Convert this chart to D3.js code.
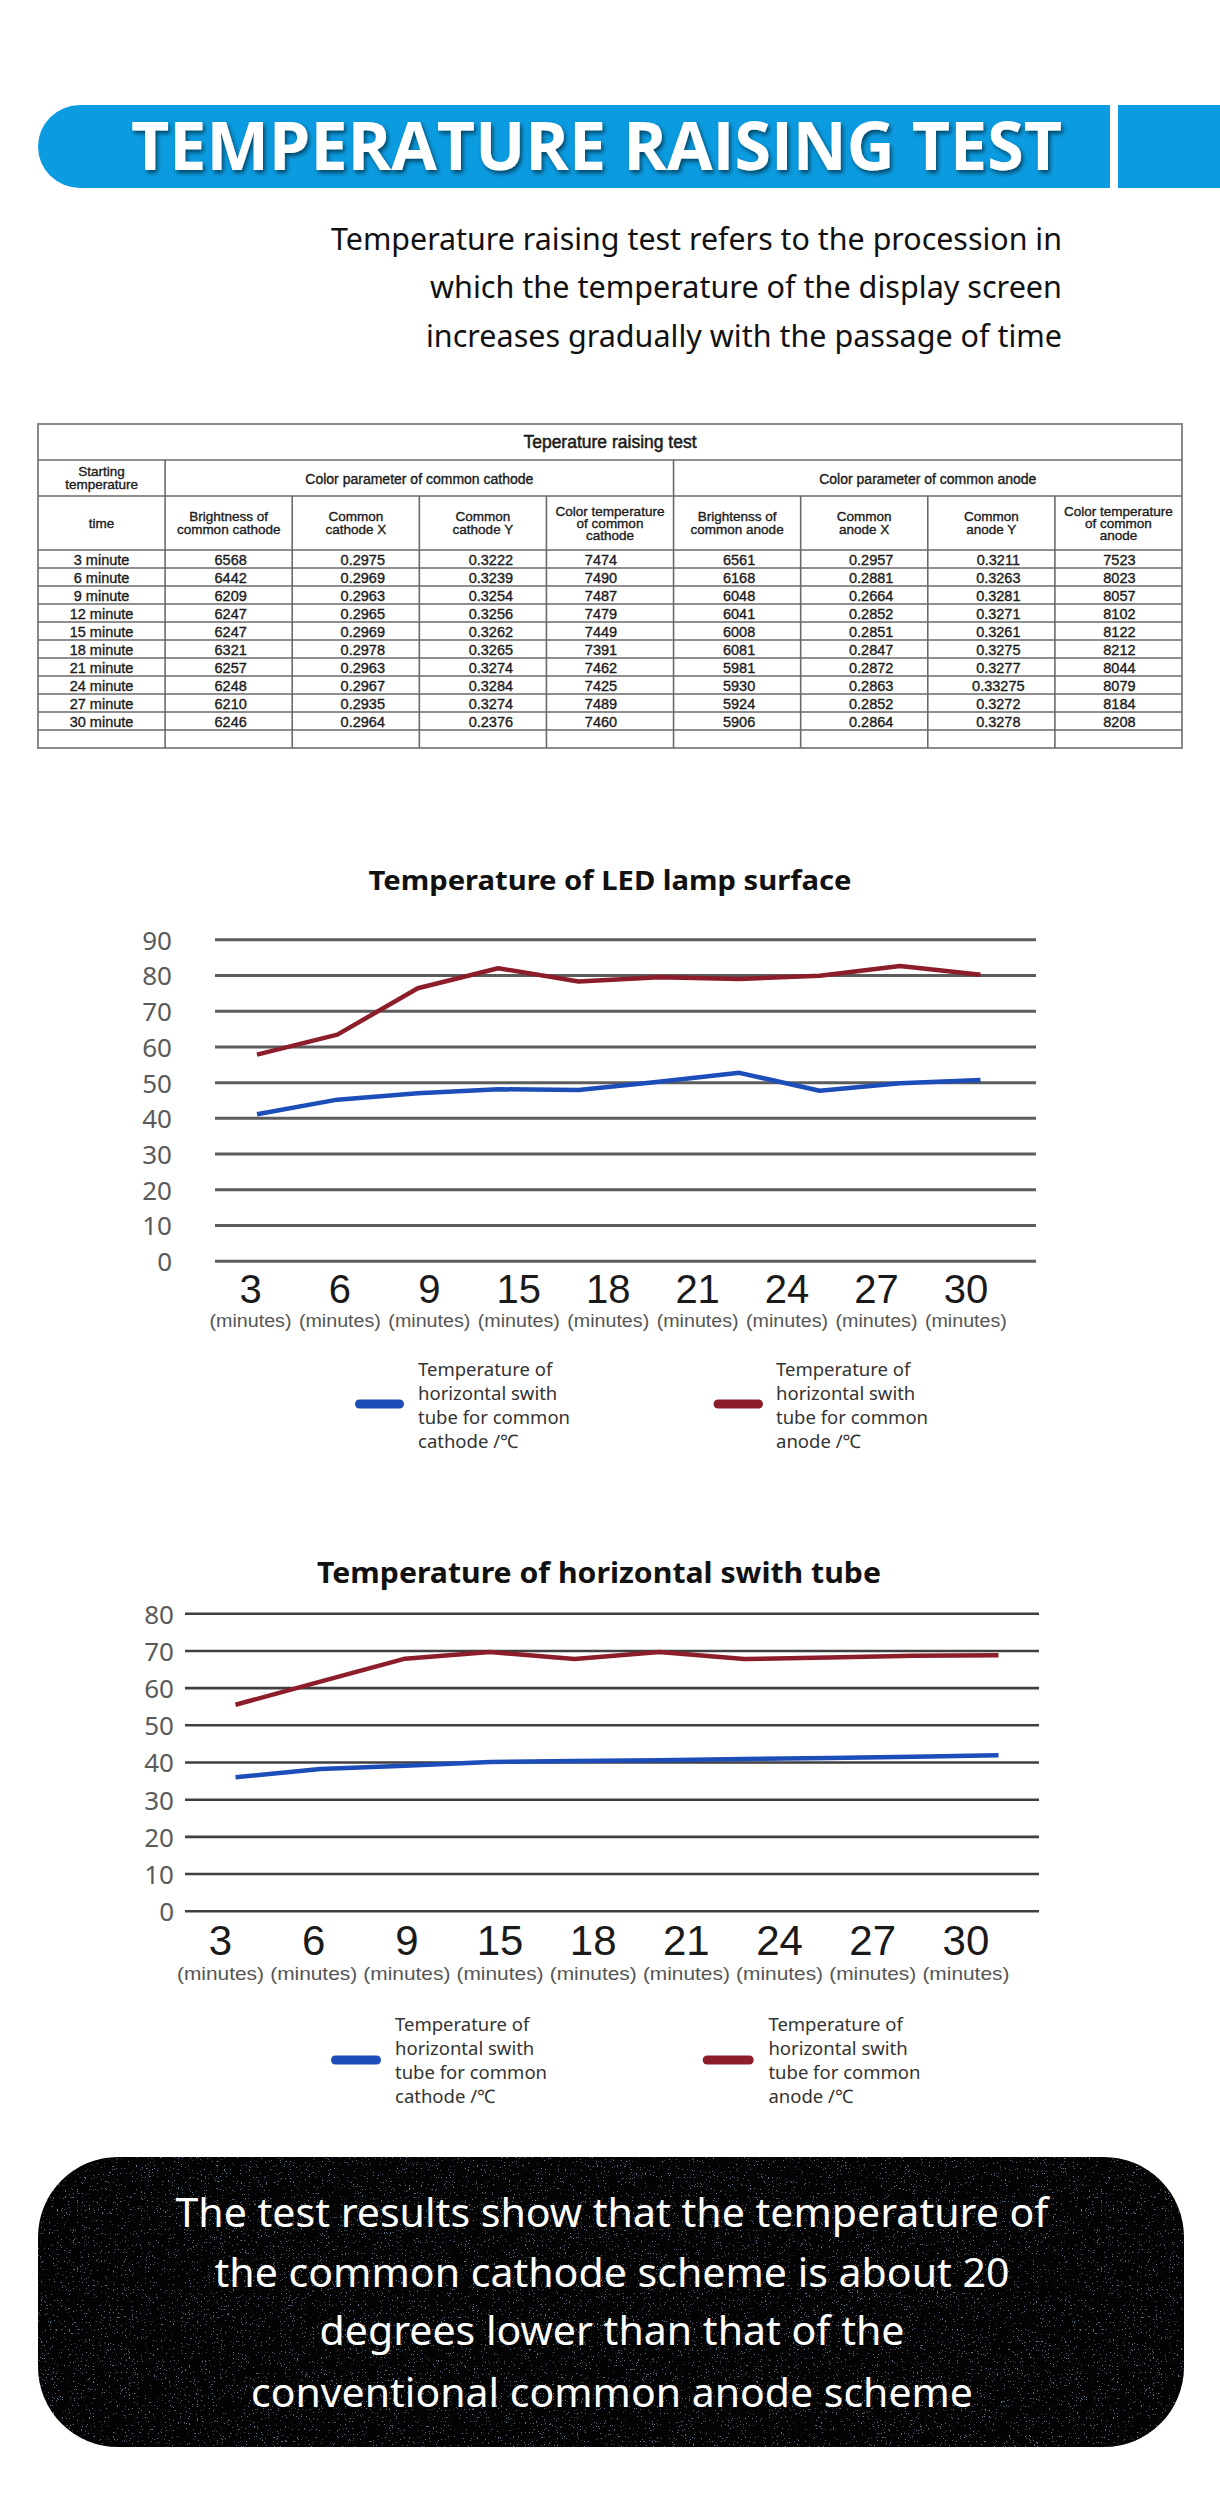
<!DOCTYPE html>
<html>
<head>
<meta charset="utf-8">
<script src="https://cdn.jsdelivr.net/npm/d3@7"></script>
<style>
  html, body { margin: 0; padding: 0; background: #fff; }
  svg { display: block; }
</style>
</head>
<body>
<div id="chart"></div>
<script>
// ---------------- DATA ----------------
const minutes = [3, 6, 9, 12, 15, 18, 21, 24, 27, 30];
const axisLabels = ["3", "6", "9", "15", "18", "21", "24", "27", "30"];

// Chart 1: Temperature of LED lamp surface
const lampCathode = [41.0, 45.1, 46.9, 48.0, 47.8, 50.1, 52.6, 47.6, 49.7, 50.6];
const lampAnode   = [57.7, 63.3, 76.3, 81.9, 78.2, 79.4, 78.9, 79.8, 82.5, 80.1];

// Chart 2: Temperature of horizontal swith tube
const tubeCathode = [35.9, 38.1, 39.0, 40.0, 40.3, 40.5, 40.8, 41.1, 41.4, 41.8];
const tubeAnode   = [55.4, 61.6, 67.8, 69.6, 67.7, 69.6, 67.7, 68.1, 68.6, 68.7];

const legendCathode = ["Temperature of", "horizontal swith", "tube for common", "cathode /℃"];
const legendAnode   = ["Temperature of", "horizontal swith", "tube for common", "anode /℃"];

// Table
const tableTitle = "Teperature raising test";
const timeRows = ["3 minute", "6 minute", "9 minute", "12 minute", "15 minute", "18 minute", "21 minute", "24 minute", "27 minute", "30 minute"];
const cathodeBrightness = ["6568", "6442", "6209", "6247", "6247", "6321", "6257", "6248", "6210", "6246"];
const cathodeX = ["0.2975", "0.2969", "0.2963", "0.2965", "0.2969", "0.2978", "0.2963", "0.2967", "0.2935", "0.2964"];
const cathodeY = ["0.3222", "0.3239", "0.3254", "0.3256", "0.3262", "0.3265", "0.3274", "0.3284", "0.3274", "0.2376"];
const cathodeCT = ["7474", "7490", "7487", "7479", "7449", "7391", "7462", "7425", "7489", "7460"];
const anodeBrightness = ["6561", "6168", "6048", "6041", "6008", "6081", "5981", "5930", "5924", "5906"];
const anodeX = ["0.2957", "0.2881", "0.2664", "0.2852", "0.2851", "0.2847", "0.2872", "0.2863", "0.2852", "0.2864"];
const anodeY = ["0.3211", "0.3263", "0.3281", "0.3271", "0.3261", "0.3275", "0.3277", "0.33275", "0.3272", "0.3278"];
const anodeCT = ["7523", "8023", "8057", "8102", "8122", "8212", "8044", "8079", "8184", "8208"];
const columnHeaders = [
  ["time"],
  ["Brightness of", "common cathode"],
  ["Common", "cathode X"],
  ["Common", "cathode Y"],
  ["Color temperature", "of common", "cathode"],
  ["Brightenss of", "common anode"],
  ["Common", "anode X"],
  ["Common", "anode Y"],
  ["Color temperature", "of common", "anode"]
];
const groupHeaders = ["Color parameter of common cathode", "Color parameter of common anode"];
const startingHeader = ["Starting", "temperature"];

const headerTitle = "TEMPERATURE RAISING TEST";
const introLines = [
  "Temperature raising test refers to the procession in",
  "which the temperature of the display screen",
  "increases gradually with the passage of time"
];
const conclusionLines = [
  "The test results show that the temperature of",
  "the common cathode scheme is about 20",
  "degrees lower than that of the",
  "conventional common anode scheme"
];

// ---------------- DRAW ----------------
const W = 1220, H = 2503;
const svg = d3.select("#chart").append("svg").attr("width", W).attr("height", H);
const defs = svg.append("defs");

const BLUE_HDR = "#0b9be0";
const C_BLUE = "#1c4db8";
const C_RED = "#8c1d2b";

// drop shadow
const sh = defs.append("filter").attr("id", "tshadow").attr("x", "-5%").attr("y", "-20%").attr("width", "110%").attr("height", "150%");
sh.append("feDropShadow").attr("dx", 2).attr("dy", 3).attr("stdDeviation", 2).attr("flood-color", "#000").attr("flood-opacity", 0.55);

// ---- Header bar
svg.append("rect").attr("x", 38).attr("y", 105).attr("width", 1072).attr("height", 83).attr("rx", 42).attr("ry", 42).attr("fill", BLUE_HDR);
svg.append("rect").attr("x", 1060).attr("y", 105).attr("width", 50).attr("height", 83).attr("fill", BLUE_HDR);
svg.append("rect").attr("x", 1118).attr("y", 105).attr("width", 102).attr("height", 83).attr("fill", BLUE_HDR);
svg.append("text").attr("x", 596.5).attr("y", 170).attr("text-anchor", "middle")
  .attr("font-family", "'Open Sans', 'Noto Sans', sans-serif").attr("font-weight", 700).attr("font-size", 66)
  .attr("textLength", 931).attr("lengthAdjust", "spacingAndGlyphs")
  .attr("fill", "#fff").attr("filter", "url(#tshadow)").text(headerTitle);

// ---- Intro text
const introBase = [250, 298, 347];
const introWidth = [731, 632, 636];
svg.append("g").selectAll("text").data(introLines).join("text")
  .attr("x", 1062).attr("y", (d, i) => introBase[i]).attr("text-anchor", "end")
  .attr("font-family", "'Noto Sans', sans-serif").attr("font-size", 30).attr("fill", "#111")
  .attr("textLength", (d, i) => introWidth[i]).attr("lengthAdjust", "spacingAndGlyphs")
  .text(d => d);

// ---- Table
(function drawTable() {
  const g = svg.append("g").attr("font-family", "'Liberation Sans', Arial, sans-serif")
    .attr("fill", "#1a1a1a").attr("stroke", "#1a1a1a").attr("stroke-width", 0.35);
  const colX = d3.scaleLinear().domain([0, 9]).range([38, 1182]);
  const yTop = 424, yT = 460, yG = 496, yH = 550, rowH = 18, nRows = 11;
  const yBot = yH + rowH * nRows;
  const lc = "#6a6a6a";
  const lines = g.append("g").attr("fill", "none");
  // outer border
  lines.append("rect").attr("x", colX(0)).attr("y", yTop).attr("width", colX(9) - colX(0)).attr("height", yBot - yTop)
    .attr("fill", "none").attr("stroke", "#8a8a8a").attr("stroke-width", 2);
  // horizontal lines
  const hl = [yT, yG, yH];
  for (let i = 1; i < nRows; i++) hl.push(yH + rowH * i);
  lines.selectAll("line.h").data(hl).join("line").attr("class", "h")
    .attr("x1", colX(0)).attr("x2", colX(9)).attr("y1", d => d).attr("y2", d => d)
    .attr("stroke", lc).attr("stroke-width", 1.6);
  // vertical lines
  const vfull = [1, 5], vpart = [2, 3, 4, 6, 7, 8];
  lines.selectAll("line.vf").data(vfull).join("line").attr("class", "vf")
    .attr("x1", d => colX(d)).attr("x2", d => colX(d)).attr("y1", yT).attr("y2", yBot)
    .attr("stroke", lc).attr("stroke-width", 1.6);
  lines.selectAll("line.vp").data(vpart).join("line").attr("class", "vp")
    .attr("x1", d => colX(d)).attr("x2", d => colX(d)).attr("y1", yG).attr("y2", yBot)
    .attr("stroke", lc).attr("stroke-width", 1.6);
  // title
  g.append("text").attr("x", 610).attr("y", (yTop + yT) / 2).attr("dy", "0.35em").attr("text-anchor", "middle")
    .attr("font-size", 17.5).attr("stroke-width", 0.5).text(tableTitle);
  // starting temperature
  g.append("g").selectAll("text").data(startingHeader).join("text")
    .attr("x", (colX(0) + colX(1)) / 2).attr("y", (d, i) => 471 + i * 13.3).attr("dy", "0.35em")
    .attr("text-anchor", "middle").attr("font-size", 13.5).text(d => d);
  // group headers
  g.append("g").selectAll("text").data(groupHeaders).join("text")
    .attr("x", (d, i) => (colX(1 + 4 * i) + colX(5 + 4 * i)) / 2).attr("y", 479).attr("dy", "0.35em")
    .attr("text-anchor", "middle").attr("font-size", 14).text(d => d);
  // column headers
  columnHeaders.forEach((lns, c) => {
    const cx = (colX(c) + colX(c + 1)) / 2;
    const sp = lns.length === 3 ? 12 : 13.3;
    const y0 = 523 - sp * (lns.length - 1) / 2;
    g.append("g").selectAll("text").data(lns).join("text")
      .attr("x", cx).attr("y", (d, i) => y0 + i * sp).attr("dy", "0.35em")
      .attr("text-anchor", "middle").attr("font-size", 13.5).text(d => d);
  });
  // data
  const cols = [timeRows, cathodeBrightness, cathodeX, cathodeY, cathodeCT, anodeBrightness, anodeX, anodeY, anodeCT];
  const offs = [0, 2, 7, 8, -9, 2, 7, 7, 1];
  cols.forEach((arr, c) => {
    const cx = (colX(c) + colX(c + 1)) / 2 + offs[c];
    g.append("g").selectAll("text").data(arr).join("text")
      .attr("x", cx).attr("y", (d, i) => yH + rowH * i + rowH / 2 + 1).attr("dy", "0.35em")
      .attr("text-anchor", "middle").attr("font-size", 14.5).text(d => d);
  });
})();

// ---- Line charts
function drawChart(cfg, cathode, anode) {
  const g = svg.append("g");
  const y = d3.scaleLinear().domain([0, cfg.yMax]).range([cfg.y0, cfg.yTop]);
  const xData = d3.scalePoint().domain(minutes).range(cfg.dataRange);
  const xLab = d3.scalePoint().domain(axisLabels).range(cfg.labelRange);
  const nt = cfg.yMax / 10;

  // title
  g.append("text").attr("x", cfg.titleX).attr("y", cfg.titleY).attr("text-anchor", "middle")
    .attr("font-family", "'Noto Sans', sans-serif").attr("font-weight", 700).attr("font-size", cfg.titleSize)
    .attr("textLength", cfg.titleW).attr("lengthAdjust", "spacingAndGlyphs")
    .attr("fill", "#111").text(cfg.title);

  // gridlines
  const grid = g.append("g").attr("transform", `translate(${cfg.gx1},0)`)
    .call(d3.axisRight(y).ticks(nt).tickSize(cfg.gx2 - cfg.gx1).tickFormat(""));
  grid.select(".domain").remove();
  grid.selectAll("line").attr("stroke", cfg.gridColor).attr("stroke-width", cfg.gridW);

  // y labels
  const yl = g.append("g").attr("transform", `translate(${cfg.labelX},0)`)
    .call(d3.axisLeft(y).ticks(nt).tickSize(0).tickPadding(0));
  yl.select(".domain").remove();
  yl.selectAll("text").attr("font-family", "'Noto Sans', sans-serif").attr("font-size", 26)
    .attr("fill", "#5a5a5a").attr("dy", "0.38em");

  // x labels: numbers
  const xd = g.append("g").attr("transform", `translate(0,${cfg.digitBase})`)
    .call(d3.axisBottom(xLab).tickSize(0).tickPadding(0));
  xd.select(".domain").remove();
  xd.selectAll("text").attr("y", 0).attr("dy", 0).attr("font-family", "'Liberation Sans', Arial, sans-serif")
    .attr("font-size", cfg.digitSize).attr("fill", "#1a1a1a");
  // x labels: (minutes)
  const xm = g.append("g").attr("transform", `translate(0,${cfg.minBase})`)
    .call(d3.axisBottom(xLab).tickSize(0).tickPadding(0).tickFormat(() => "(minutes)"));
  xm.select(".domain").remove();
  xm.selectAll("text").attr("y", 0).attr("dy", 0).attr("font-family", "'Liberation Sans', Arial, sans-serif")
    .attr("font-size", cfg.minSize).attr("fill", "#555")
    .attr("textLength", cfg.minW).attr("lengthAdjust", "spacingAndGlyphs");

  // lines
  const line = d3.line().x((d, i) => xData(minutes[i])).y(d => y(d));
  g.append("path").datum(anode).attr("d", line).attr("fill", "none").attr("stroke", C_RED)
    .attr("stroke-width", 4.5).attr("stroke-linejoin", "round");
  g.append("path").datum(cathode).attr("d", line).attr("fill", "none").attr("stroke", C_BLUE)
    .attr("stroke-width", 4.5).attr("stroke-linejoin", "round");

  // legend
  const items = [
    { color: C_BLUE, lines: legendCathode, sx: cfg.legBlue },
    { color: C_RED, lines: legendAnode, sx: cfg.legRed }
  ];
  items.forEach(it => {
    g.append("line").attr("x1", it.sx[0] + 4.5).attr("x2", it.sx[1] - 4.5)
      .attr("y1", cfg.legSwY).attr("y2", cfg.legSwY)
      .attr("stroke", it.color).attr("stroke-width", 9).attr("stroke-linecap", "round");
    g.append("g").selectAll("text").data(it.lines).join("text")
      .attr("x", it.sx[2]).attr("y", (d, i) => cfg.legBase + i * 24)
      .attr("font-family", "'Noto Sans', sans-serif").attr("font-size", 18.5).attr("fill", "#333")
      .text(d => d);
  });
}

drawChart({
  title: "Temperature of LED lamp surface", titleX: 610, titleY: 890, titleSize: 26, titleW: 483,
  yMax: 90, y0: 1260.7, yTop: 939.3, gx1: 215, gx2: 1036, labelX: 172,
  gridColor: "#5c5c5c", gridW: 3,
  dataRange: [257, 980.5], labelRange: [250, 965.4],
  digitBase: 1303, digitSize: 40, minBase: 1327, minSize: 18, minW: 82,
  legBlue: [355, 404, 418], legRed: [713.5, 763, 776], legSwY: 1404, legBase: 1376
}, lampCathode, lampAnode);

drawChart({
  title: "Temperature of horizontal swith tube", titleX: 599, titleY: 1583, titleSize: 28, titleW: 564,
  yMax: 80, y0: 1910.7, yTop: 1613.3, gx1: 185, gx2: 1039, labelX: 174,
  gridColor: "#3f3f3f", gridW: 2.6,
  dataRange: [235.5, 998.5], labelRange: [220, 965.4],
  digitBase: 1955, digitSize: 42, minBase: 1980, minSize: 19, minW: 87,
  legBlue: [331, 381, 395], legRed: [702.7, 753.7, 768.4], legSwY: 2060, legBase: 2031
}, tubeCathode, tubeAnode);

// ---- Conclusion box
const bx = 38, by = 2157, bw = 1146, bh = 290, br = 80;
defs.append("clipPath").attr("id", "boxClip").append("rect")
  .attr("x", bx).attr("y", by).attr("width", bw).attr("height", bh).attr("rx", br).attr("ry", br);
const st = defs.append("filter").attr("id", "stars").attr("x", 0).attr("y", 0).attr("width", 1).attr("height", 1);
st.append("feTurbulence").attr("type", "fractalNoise").attr("baseFrequency", 0.75).attr("numOctaves", 2).attr("seed", 7);
st.append("feColorMatrix").attr("type", "matrix")
  .attr("values", "0 0 0 0 0.35  0 0 0 0 0.55  0 0 0 0 0.85  18 0 0 0 -12.2");
const box = svg.append("g").attr("clip-path", "url(#boxClip)");
box.append("rect").attr("x", bx).attr("y", by).attr("width", bw).attr("height", bh).attr("fill", "#030303");
box.append("rect").attr("x", bx).attr("y", by).attr("width", bw).attr("height", bh).attr("fill", "#000")
  .attr("filter", "url(#stars)").attr("opacity", 0.6);
const concBase = [2227, 2287, 2345, 2407];
const concW = [873, 795, 585, 722];
svg.append("g").selectAll("text").data(conclusionLines).join("text")
  .attr("x", 612).attr("y", (d, i) => concBase[i]).attr("text-anchor", "middle")
  .attr("font-family", "'Noto Sans', sans-serif").attr("font-size", 40).attr("fill", "#fff")
  .attr("textLength", (d, i) => concW[i]).attr("lengthAdjust", "spacingAndGlyphs")
  .text(d => d);
</script>
</body>
</html>
